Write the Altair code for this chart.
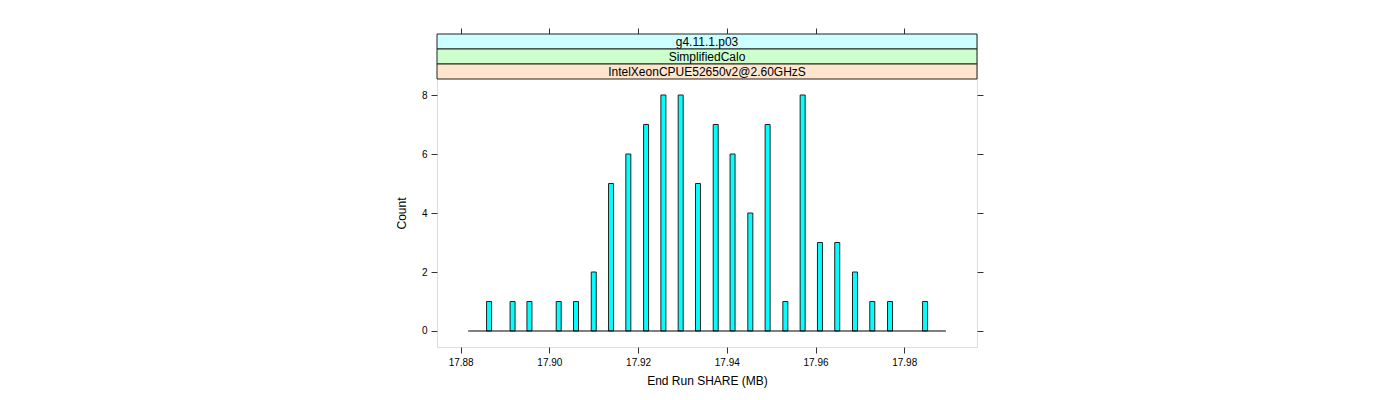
import altair as alt
import pandas as pd

# ---- data ----
share_mb = [17.8864, 17.8917, 17.8955, 17.9021, 17.9060, 17.9100, 17.9139, 17.9178,
            17.9218, 17.9257, 17.9296, 17.9335, 17.9375, 17.9413, 17.9453, 17.9492,
            17.9532, 17.9571, 17.9610, 17.9649, 17.9689, 17.9728, 17.9768, 17.9847]
counts = [1, 1, 1, 1, 1, 2, 5, 6, 7, 8, 8, 5, 7, 6, 4, 7, 1, 8, 3, 3, 2, 1, 1, 1]
baseline_range = [17.8817, 17.9894]
x_ticks = [17.88, 17.90, 17.92, 17.94, 17.96, 17.98]
y_ticks = [0, 2, 4, 6, 8]
strip_labels = ["g4.11.1.p03", "SimplifiedCalo", "IntelXeonCPUE52650v2@2.60GHzS"]
strip_colors = ["#CCFFFF", "#CCFFCC", "#FFE5CC"]

FONT = "Liberation Sans"
W, H = 540, 313
STRIP_H = 15

bars_df = pd.DataFrame({"share": share_mb, "count": counts})
base_df = pd.DataFrame({"x0": [baseline_range[0]], "x1": [baseline_range[1]], "y": [0]})

x_scale = alt.Scale(domain=[17.87579, 17.99528], nice=False, zero=False)
y_scale = alt.Scale(domain=[-0.5424, 10.068], nice=False, zero=False)

bars = alt.Chart(bars_df).mark_bar(
    size=5, color="#00FFFF", stroke="#222222", strokeWidth=1
).encode(
    x=alt.X("share:Q", scale=x_scale,
            axis=alt.Axis(values=x_ticks, format=".2f", title="End Run SHARE (MB)",
                          grid=False, domain=False, tickSize=6, tickColor="#333333",
                          labelPadding=4, titlePadding=8, labelFontSize=10,
                          titleFontSize=12, titleFontWeight="normal",
                          labelFont=FONT, titleFont=FONT, labelColor="black",
                          titleColor="black")),
    y=alt.Y("count:Q", scale=y_scale,
            axis=alt.Axis(values=y_ticks, title="Count", grid=False, domain=False,
                          tickSize=6, tickColor="#333333", labelPadding=4,
                          labelFontSize=10, titleFontSize=12, titleFontWeight="normal",
                          labelFont=FONT, titleFont=FONT, labelColor="black",
                          titleColor="black", titleY=179, titleX=-29)),
)

baseline = alt.Chart(base_df).mark_rule(color="black", strokeWidth=1).encode(
    x=alt.X("x0:Q", scale=x_scale,
            axis=alt.Axis(orient="top", values=x_ticks, labels=False, title=None,
                          grid=False, domain=False, tickSize=6, tickColor="#333333")),
    x2="x1:Q",
    y=alt.Y("y:Q", scale=y_scale,
            axis=alt.Axis(orient="right", values=y_ticks, labels=False, title=None,
                          grid=False, domain=False, tickSize=6, tickColor="#333333")),
)

layers = [bars, baseline]
for i, (lab, col) in enumerate(zip(strip_labels, strip_colors)):
    sdf = pd.DataFrame({"label": [lab]})
    rect = alt.Chart(sdf).mark_rect(fill=col, stroke="#222222", strokeWidth=1).encode(
        x=alt.value(0), x2=alt.value(W),
        y=alt.value(i * STRIP_H), y2=alt.value((i + 1) * STRIP_H),
    )
    txt = alt.Chart(sdf).mark_text(font=FONT, fontSize=12, color="black",
                                   baseline="middle", align="center").encode(
        x=alt.value(W / 2), y=alt.value(i * STRIP_H + STRIP_H / 2 + 0.5),
        text="label:N",
    )
    layers += [rect, txt]

chart = alt.layer(*layers).resolve_axis(x="independent", y="independent").properties(
    width=W, height=H,
    autosize=alt.AutoSizeParams(type="none"),
    padding={"left": 429, "top": 26, "right": 400, "bottom": 45},
).configure_view(stroke="#222222", strokeWidth=1).configure(background="white")

chart.save("out.html", embed_options={"renderer": "svg", "actions": False})
